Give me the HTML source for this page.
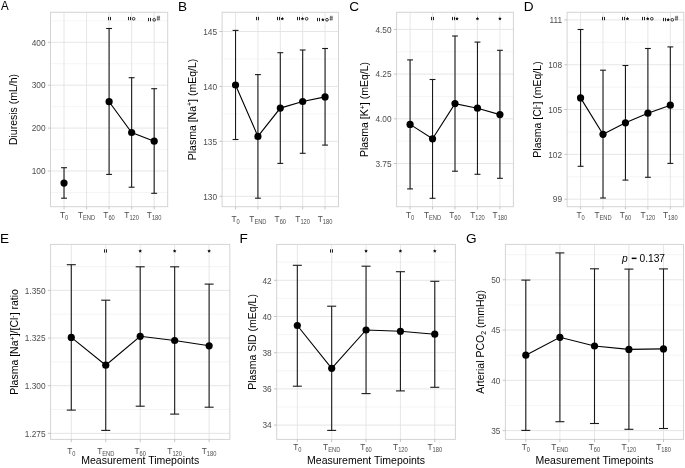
<!DOCTYPE html>
<html><head><meta charset="utf-8"><style>
html,body{margin:0;padding:0;background:#fff;}
svg{display:block;filter:grayscale(1);}
text{font-family:"Liberation Sans",sans-serif;}
</style></head><body>
<svg width="685" height="468" viewBox="0 0 685 468">
<rect width="685" height="468" fill="#fff"/>
<line x1="50.5" x2="167.7" y1="192.45" y2="192.45" stroke="#EFEFEF" stroke-width="0.6"/>
<line x1="50.5" x2="167.7" y1="149.55" y2="149.55" stroke="#EFEFEF" stroke-width="0.6"/>
<line x1="50.5" x2="167.7" y1="106.65" y2="106.65" stroke="#EFEFEF" stroke-width="0.6"/>
<line x1="50.5" x2="167.7" y1="63.75" y2="63.75" stroke="#EFEFEF" stroke-width="0.6"/>
<line x1="50.5" x2="167.7" y1="20.85" y2="20.85" stroke="#EFEFEF" stroke-width="0.6"/>
<line x1="50.5" x2="167.7" y1="171" y2="171" stroke="#E3E3E3" stroke-width="0.9"/>
<line x1="50.5" x2="167.7" y1="128.1" y2="128.1" stroke="#E3E3E3" stroke-width="0.9"/>
<line x1="50.5" x2="167.7" y1="85.2" y2="85.2" stroke="#E3E3E3" stroke-width="0.9"/>
<line x1="50.5" x2="167.7" y1="42.3" y2="42.3" stroke="#E3E3E3" stroke-width="0.9"/>
<line x1="64.02" x2="64.02" y1="12.3" y2="206.7" stroke="#E3E3E3" stroke-width="0.9"/>
<line x1="86.56" x2="86.56" y1="12.3" y2="206.7" stroke="#E3E3E3" stroke-width="0.9"/>
<line x1="109.1" x2="109.1" y1="12.3" y2="206.7" stroke="#E3E3E3" stroke-width="0.9"/>
<line x1="131.64" x2="131.64" y1="12.3" y2="206.7" stroke="#E3E3E3" stroke-width="0.9"/>
<line x1="154.18" x2="154.18" y1="12.3" y2="206.7" stroke="#E3E3E3" stroke-width="0.9"/>
<rect x="50.5" y="12.3" width="117.2" height="194.4" fill="none" stroke="#D4D4D4" stroke-width="1"/>
<line x1="47.8" x2="50.5" y1="171" y2="171" stroke="#B8B8B8" stroke-width="0.8"/>
<text x="45.5" y="174.2" text-anchor="end" font-size="8.3" fill="#4D4D4D">100</text>
<line x1="47.8" x2="50.5" y1="128.1" y2="128.1" stroke="#B8B8B8" stroke-width="0.8"/>
<text x="45.5" y="131.3" text-anchor="end" font-size="8.3" fill="#4D4D4D">200</text>
<line x1="47.8" x2="50.5" y1="85.2" y2="85.2" stroke="#B8B8B8" stroke-width="0.8"/>
<text x="45.5" y="88.4" text-anchor="end" font-size="8.3" fill="#4D4D4D">300</text>
<line x1="47.8" x2="50.5" y1="42.3" y2="42.3" stroke="#B8B8B8" stroke-width="0.8"/>
<text x="45.5" y="45.5" text-anchor="end" font-size="8.3" fill="#4D4D4D">400</text>
<line x1="64.02" x2="64.02" y1="206.7" y2="209.4" stroke="#B8B8B8" stroke-width="0.8"/>
<line x1="86.56" x2="86.56" y1="206.7" y2="209.4" stroke="#B8B8B8" stroke-width="0.8"/>
<line x1="109.1" x2="109.1" y1="206.7" y2="209.4" stroke="#B8B8B8" stroke-width="0.8"/>
<line x1="131.64" x2="131.64" y1="206.7" y2="209.4" stroke="#B8B8B8" stroke-width="0.8"/>
<line x1="154.18" x2="154.18" y1="206.7" y2="209.4" stroke="#B8B8B8" stroke-width="0.8"/>
<text x="59.89" y="218.2" font-size="8.3" fill="#4D4D4D">T</text>
<text x="64.96" y="220" font-size="7.0" fill="#4D4D4D" textLength="3.19" lengthAdjust="spacingAndGlyphs">0</text>
<text x="77.97" y="218.2" font-size="8.3" fill="#4D4D4D">T</text>
<text x="83.04" y="220" font-size="7.0" fill="#4D4D4D" textLength="12.12" lengthAdjust="spacingAndGlyphs">END</text>
<text x="103.37" y="218.2" font-size="8.3" fill="#4D4D4D">T</text>
<text x="108.44" y="220" font-size="7.0" fill="#4D4D4D" textLength="6.38" lengthAdjust="spacingAndGlyphs">60</text>
<text x="124.32" y="218.2" font-size="8.3" fill="#4D4D4D">T</text>
<text x="129.39" y="220" font-size="7.0" fill="#4D4D4D" textLength="9.57" lengthAdjust="spacingAndGlyphs">120</text>
<text x="146.85" y="218.2" font-size="8.3" fill="#4D4D4D">T</text>
<text x="151.93" y="220" font-size="7.0" fill="#4D4D4D" textLength="9.57" lengthAdjust="spacingAndGlyphs">180</text>
<line x1="64.02" x2="64.02" y1="167.7" y2="198.2" stroke="#1A1A1A" stroke-width="1.1"/>
<line x1="61.07" x2="66.98" y1="167.7" y2="167.7" stroke="#1A1A1A" stroke-width="1.1"/>
<line x1="61.07" x2="66.98" y1="198.2" y2="198.2" stroke="#1A1A1A" stroke-width="1.1"/>
<line x1="109.1" x2="109.1" y1="28.5" y2="174.4" stroke="#1A1A1A" stroke-width="1.1"/>
<line x1="106.15" x2="112.05" y1="28.5" y2="28.5" stroke="#1A1A1A" stroke-width="1.1"/>
<line x1="106.15" x2="112.05" y1="174.4" y2="174.4" stroke="#1A1A1A" stroke-width="1.1"/>
<line x1="131.64" x2="131.64" y1="77.7" y2="187.2" stroke="#1A1A1A" stroke-width="1.1"/>
<line x1="128.69" x2="134.59" y1="77.7" y2="77.7" stroke="#1A1A1A" stroke-width="1.1"/>
<line x1="128.69" x2="134.59" y1="187.2" y2="187.2" stroke="#1A1A1A" stroke-width="1.1"/>
<line x1="154.18" x2="154.18" y1="88.7" y2="193.3" stroke="#1A1A1A" stroke-width="1.1"/>
<line x1="151.22" x2="157.13" y1="88.7" y2="88.7" stroke="#1A1A1A" stroke-width="1.1"/>
<line x1="151.22" x2="157.13" y1="193.3" y2="193.3" stroke="#1A1A1A" stroke-width="1.1"/>
<polyline points="109.1,101.7 131.64,132.5 154.18,141.2" fill="none" stroke="#000" stroke-width="1.1"/>
<circle cx="64.02" cy="183.1" r="3.6" fill="#000"/>
<circle cx="109.1" cy="101.7" r="3.6" fill="#000"/>
<circle cx="131.64" cy="132.5" r="3.6" fill="#000"/>
<circle cx="154.18" cy="141.2" r="3.6" fill="#000"/>
<rect x="108" y="16.9" width="1.0" height="3.3" fill="#222"/>
<rect x="110" y="16.9" width="1.0" height="3.3" fill="#222"/>
<rect x="128" y="16.9" width="1.0" height="3.3" fill="#222"/>
<rect x="130" y="16.9" width="1.0" height="3.3" fill="#222"/>
<circle cx="133.64" cy="18.8" r="1.35" fill="none" stroke="#222" stroke-width="0.9"/>
<rect x="148" y="17.9" width="1.0" height="3.3" fill="#222"/>
<rect x="150" y="17.9" width="1.0" height="3.3" fill="#222"/>
<circle cx="154.18" cy="19.8" r="1.35" fill="none" stroke="#222" stroke-width="0.9"/>
<path d="M157.88,15.8L157.58,20.6M159.28,15.8L158.98,20.6M156.78,17.2H160.08M156.78,19.2H160.08" stroke="#333" stroke-width="0.6" fill="none"/>
<text transform="translate(17,109.5) rotate(-90)" text-anchor="middle" font-size="10.5" fill="#000">Diuresis (mL/h)</text>
<text transform="translate(0.9,10.3) scale(0.85,1)" font-size="13.6" fill="#000">A</text>
<line x1="222.1" x2="338.5" y1="168.83" y2="168.83" stroke="#EFEFEF" stroke-width="0.6"/>
<line x1="222.1" x2="338.5" y1="113.9" y2="113.9" stroke="#EFEFEF" stroke-width="0.6"/>
<line x1="222.1" x2="338.5" y1="58.97" y2="58.97" stroke="#EFEFEF" stroke-width="0.6"/>
<line x1="222.1" x2="338.5" y1="196.3" y2="196.3" stroke="#E3E3E3" stroke-width="0.9"/>
<line x1="222.1" x2="338.5" y1="141.37" y2="141.37" stroke="#E3E3E3" stroke-width="0.9"/>
<line x1="222.1" x2="338.5" y1="86.43" y2="86.43" stroke="#E3E3E3" stroke-width="0.9"/>
<line x1="222.1" x2="338.5" y1="31.5" y2="31.5" stroke="#E3E3E3" stroke-width="0.9"/>
<line x1="235.53" x2="235.53" y1="12.3" y2="206.7" stroke="#E3E3E3" stroke-width="0.9"/>
<line x1="257.92" x2="257.92" y1="12.3" y2="206.7" stroke="#E3E3E3" stroke-width="0.9"/>
<line x1="280.3" x2="280.3" y1="12.3" y2="206.7" stroke="#E3E3E3" stroke-width="0.9"/>
<line x1="302.68" x2="302.68" y1="12.3" y2="206.7" stroke="#E3E3E3" stroke-width="0.9"/>
<line x1="325.07" x2="325.07" y1="12.3" y2="206.7" stroke="#E3E3E3" stroke-width="0.9"/>
<rect x="222.1" y="12.3" width="116.4" height="194.4" fill="none" stroke="#D4D4D4" stroke-width="1"/>
<line x1="219.4" x2="222.1" y1="196.3" y2="196.3" stroke="#B8B8B8" stroke-width="0.8"/>
<text x="217.1" y="199.5" text-anchor="end" font-size="8.3" fill="#4D4D4D">130</text>
<line x1="219.4" x2="222.1" y1="141.37" y2="141.37" stroke="#B8B8B8" stroke-width="0.8"/>
<text x="217.1" y="144.57" text-anchor="end" font-size="8.3" fill="#4D4D4D">135</text>
<line x1="219.4" x2="222.1" y1="86.43" y2="86.43" stroke="#B8B8B8" stroke-width="0.8"/>
<text x="217.1" y="89.63" text-anchor="end" font-size="8.3" fill="#4D4D4D">140</text>
<line x1="219.4" x2="222.1" y1="31.5" y2="31.5" stroke="#B8B8B8" stroke-width="0.8"/>
<text x="217.1" y="34.7" text-anchor="end" font-size="8.3" fill="#4D4D4D">145</text>
<line x1="235.53" x2="235.53" y1="206.7" y2="209.4" stroke="#B8B8B8" stroke-width="0.8"/>
<line x1="257.92" x2="257.92" y1="206.7" y2="209.4" stroke="#B8B8B8" stroke-width="0.8"/>
<line x1="280.3" x2="280.3" y1="206.7" y2="209.4" stroke="#B8B8B8" stroke-width="0.8"/>
<line x1="302.68" x2="302.68" y1="206.7" y2="209.4" stroke="#B8B8B8" stroke-width="0.8"/>
<line x1="325.07" x2="325.07" y1="206.7" y2="209.4" stroke="#B8B8B8" stroke-width="0.8"/>
<text x="231.4" y="221.8" font-size="8.3" fill="#4D4D4D">T</text>
<text x="236.47" y="223.6" font-size="7.0" fill="#4D4D4D" textLength="3.19" lengthAdjust="spacingAndGlyphs">0</text>
<text x="249.32" y="221.8" font-size="8.3" fill="#4D4D4D">T</text>
<text x="254.39" y="223.6" font-size="7.0" fill="#4D4D4D" textLength="12.12" lengthAdjust="spacingAndGlyphs">END</text>
<text x="274.57" y="221.8" font-size="8.3" fill="#4D4D4D">T</text>
<text x="279.64" y="223.6" font-size="7.0" fill="#4D4D4D" textLength="6.38" lengthAdjust="spacingAndGlyphs">60</text>
<text x="295.36" y="221.8" font-size="8.3" fill="#4D4D4D">T</text>
<text x="300.43" y="223.6" font-size="7.0" fill="#4D4D4D" textLength="9.57" lengthAdjust="spacingAndGlyphs">120</text>
<text x="317.75" y="221.8" font-size="8.3" fill="#4D4D4D">T</text>
<text x="322.82" y="223.6" font-size="7.0" fill="#4D4D4D" textLength="9.57" lengthAdjust="spacingAndGlyphs">180</text>
<line x1="235.53" x2="235.53" y1="30.4" y2="139.5" stroke="#1A1A1A" stroke-width="1.1"/>
<line x1="232.6" x2="238.46" y1="30.4" y2="30.4" stroke="#1A1A1A" stroke-width="1.1"/>
<line x1="232.6" x2="238.46" y1="139.5" y2="139.5" stroke="#1A1A1A" stroke-width="1.1"/>
<line x1="257.92" x2="257.92" y1="74.6" y2="198.2" stroke="#1A1A1A" stroke-width="1.1"/>
<line x1="254.98" x2="260.85" y1="74.6" y2="74.6" stroke="#1A1A1A" stroke-width="1.1"/>
<line x1="254.98" x2="260.85" y1="198.2" y2="198.2" stroke="#1A1A1A" stroke-width="1.1"/>
<line x1="280.3" x2="280.3" y1="52.7" y2="163.4" stroke="#1A1A1A" stroke-width="1.1"/>
<line x1="277.37" x2="283.23" y1="52.7" y2="52.7" stroke="#1A1A1A" stroke-width="1.1"/>
<line x1="277.37" x2="283.23" y1="163.4" y2="163.4" stroke="#1A1A1A" stroke-width="1.1"/>
<line x1="302.68" x2="302.68" y1="50" y2="153.3" stroke="#1A1A1A" stroke-width="1.1"/>
<line x1="299.75" x2="305.62" y1="50" y2="50" stroke="#1A1A1A" stroke-width="1.1"/>
<line x1="299.75" x2="305.62" y1="153.3" y2="153.3" stroke="#1A1A1A" stroke-width="1.1"/>
<line x1="325.07" x2="325.07" y1="48.5" y2="145.1" stroke="#1A1A1A" stroke-width="1.1"/>
<line x1="322.14" x2="328" y1="48.5" y2="48.5" stroke="#1A1A1A" stroke-width="1.1"/>
<line x1="322.14" x2="328" y1="145.1" y2="145.1" stroke="#1A1A1A" stroke-width="1.1"/>
<polyline points="235.53,85 257.92,136.4 280.3,108.1 302.68,101.5 325.07,96.9" fill="none" stroke="#000" stroke-width="1.1"/>
<circle cx="235.53" cy="85" r="3.6" fill="#000"/>
<circle cx="257.92" cy="136.4" r="3.6" fill="#000"/>
<circle cx="280.3" cy="108.1" r="3.6" fill="#000"/>
<circle cx="302.68" cy="101.5" r="3.6" fill="#000"/>
<circle cx="325.07" cy="96.9" r="3.6" fill="#000"/>
<rect x="256" y="16.9" width="1.0" height="3.3" fill="#222"/>
<rect x="258" y="16.9" width="1.0" height="3.3" fill="#222"/>
<rect x="277" y="16.9" width="1.0" height="3.3" fill="#222"/>
<rect x="279" y="16.9" width="1.0" height="3.3" fill="#222"/>
<polygon points="282.3,16.85 282.86,17.93 284.06,18.13 283.2,18.99 283.39,20.2 282.3,19.65 281.21,20.2 281.4,18.99 280.54,18.13 281.74,17.93" fill="#111"/>
<rect x="297" y="16.9" width="1.0" height="3.3" fill="#222"/>
<rect x="299" y="16.9" width="1.0" height="3.3" fill="#222"/>
<polygon points="302.48,16.85 303.04,17.93 304.24,18.13 303.39,18.99 303.57,20.2 302.48,19.65 301.4,20.2 301.58,18.99 300.73,18.13 301.93,17.93" fill="#111"/>
<circle cx="306.63" cy="18.8" r="1.35" fill="none" stroke="#222" stroke-width="0.9"/>
<rect x="317" y="17.9" width="1.0" height="3.3" fill="#222"/>
<rect x="319" y="17.9" width="1.0" height="3.3" fill="#222"/>
<polygon points="322.87,17.85 323.43,18.93 324.63,19.13 323.77,19.99 323.96,21.2 322.87,20.65 321.78,21.2 321.97,19.99 321.11,19.13 322.31,18.93" fill="#111"/>
<circle cx="327.02" cy="19.8" r="1.35" fill="none" stroke="#222" stroke-width="0.9"/>
<path d="M330.72,15.8L330.42,20.6M332.12,15.8L331.82,20.6M329.62,17.2H332.92M329.62,19.2H332.92" stroke="#333" stroke-width="0.6" fill="none"/>
<text transform="translate(195.7,109.5) rotate(-90)" text-anchor="middle" font-size="10.5" fill="#000">Plasma [Na<tspan dy="-3.5" font-size="7">+</tspan><tspan dy="3.5">] (mEq/L)</tspan></text>
<text transform="translate(177.9,10.6) scale(1.0,1)" font-size="13.6" fill="#000">B</text>
<line x1="396.6" x2="513.4" y1="185.85" y2="185.85" stroke="#EFEFEF" stroke-width="0.6"/>
<line x1="396.6" x2="513.4" y1="141.15" y2="141.15" stroke="#EFEFEF" stroke-width="0.6"/>
<line x1="396.6" x2="513.4" y1="96.45" y2="96.45" stroke="#EFEFEF" stroke-width="0.6"/>
<line x1="396.6" x2="513.4" y1="51.75" y2="51.75" stroke="#EFEFEF" stroke-width="0.6"/>
<line x1="396.6" x2="513.4" y1="163.5" y2="163.5" stroke="#E3E3E3" stroke-width="0.9"/>
<line x1="396.6" x2="513.4" y1="118.8" y2="118.8" stroke="#E3E3E3" stroke-width="0.9"/>
<line x1="396.6" x2="513.4" y1="74.1" y2="74.1" stroke="#E3E3E3" stroke-width="0.9"/>
<line x1="396.6" x2="513.4" y1="29.4" y2="29.4" stroke="#E3E3E3" stroke-width="0.9"/>
<line x1="410.08" x2="410.08" y1="12.3" y2="206.7" stroke="#E3E3E3" stroke-width="0.9"/>
<line x1="432.54" x2="432.54" y1="12.3" y2="206.7" stroke="#E3E3E3" stroke-width="0.9"/>
<line x1="455" x2="455" y1="12.3" y2="206.7" stroke="#E3E3E3" stroke-width="0.9"/>
<line x1="477.46" x2="477.46" y1="12.3" y2="206.7" stroke="#E3E3E3" stroke-width="0.9"/>
<line x1="499.92" x2="499.92" y1="12.3" y2="206.7" stroke="#E3E3E3" stroke-width="0.9"/>
<rect x="396.6" y="12.3" width="116.8" height="194.4" fill="none" stroke="#D4D4D4" stroke-width="1"/>
<line x1="393.9" x2="396.6" y1="163.5" y2="163.5" stroke="#B8B8B8" stroke-width="0.8"/>
<text x="391.6" y="166.7" text-anchor="end" font-size="8.3" fill="#4D4D4D">3.75</text>
<line x1="393.9" x2="396.6" y1="118.8" y2="118.8" stroke="#B8B8B8" stroke-width="0.8"/>
<text x="391.6" y="122" text-anchor="end" font-size="8.3" fill="#4D4D4D">4.00</text>
<line x1="393.9" x2="396.6" y1="74.1" y2="74.1" stroke="#B8B8B8" stroke-width="0.8"/>
<text x="391.6" y="77.3" text-anchor="end" font-size="8.3" fill="#4D4D4D">4.25</text>
<line x1="393.9" x2="396.6" y1="29.4" y2="29.4" stroke="#B8B8B8" stroke-width="0.8"/>
<text x="391.6" y="32.6" text-anchor="end" font-size="8.3" fill="#4D4D4D">4.50</text>
<line x1="410.08" x2="410.08" y1="206.7" y2="209.4" stroke="#B8B8B8" stroke-width="0.8"/>
<line x1="432.54" x2="432.54" y1="206.7" y2="209.4" stroke="#B8B8B8" stroke-width="0.8"/>
<line x1="455" x2="455" y1="206.7" y2="209.4" stroke="#B8B8B8" stroke-width="0.8"/>
<line x1="477.46" x2="477.46" y1="206.7" y2="209.4" stroke="#B8B8B8" stroke-width="0.8"/>
<line x1="499.92" x2="499.92" y1="206.7" y2="209.4" stroke="#B8B8B8" stroke-width="0.8"/>
<text x="405.95" y="218.2" font-size="8.3" fill="#4D4D4D">T</text>
<text x="411.02" y="220" font-size="7.0" fill="#4D4D4D" textLength="3.19" lengthAdjust="spacingAndGlyphs">0</text>
<text x="423.94" y="218.2" font-size="8.3" fill="#4D4D4D">T</text>
<text x="429.02" y="220" font-size="7.0" fill="#4D4D4D" textLength="12.12" lengthAdjust="spacingAndGlyphs">END</text>
<text x="449.27" y="218.2" font-size="8.3" fill="#4D4D4D">T</text>
<text x="454.34" y="220" font-size="7.0" fill="#4D4D4D" textLength="6.38" lengthAdjust="spacingAndGlyphs">60</text>
<text x="470.14" y="218.2" font-size="8.3" fill="#4D4D4D">T</text>
<text x="475.21" y="220" font-size="7.0" fill="#4D4D4D" textLength="9.57" lengthAdjust="spacingAndGlyphs">120</text>
<text x="492.6" y="218.2" font-size="8.3" fill="#4D4D4D">T</text>
<text x="497.67" y="220" font-size="7.0" fill="#4D4D4D" textLength="9.57" lengthAdjust="spacingAndGlyphs">180</text>
<line x1="410.08" x2="410.08" y1="59.9" y2="188.9" stroke="#1A1A1A" stroke-width="1.1"/>
<line x1="407.13" x2="413.02" y1="59.9" y2="59.9" stroke="#1A1A1A" stroke-width="1.1"/>
<line x1="407.13" x2="413.02" y1="188.9" y2="188.9" stroke="#1A1A1A" stroke-width="1.1"/>
<line x1="432.54" x2="432.54" y1="79.5" y2="198.3" stroke="#1A1A1A" stroke-width="1.1"/>
<line x1="429.6" x2="435.48" y1="79.5" y2="79.5" stroke="#1A1A1A" stroke-width="1.1"/>
<line x1="429.6" x2="435.48" y1="198.3" y2="198.3" stroke="#1A1A1A" stroke-width="1.1"/>
<line x1="455" x2="455" y1="36" y2="171.2" stroke="#1A1A1A" stroke-width="1.1"/>
<line x1="452.06" x2="457.94" y1="36" y2="36" stroke="#1A1A1A" stroke-width="1.1"/>
<line x1="452.06" x2="457.94" y1="171.2" y2="171.2" stroke="#1A1A1A" stroke-width="1.1"/>
<line x1="477.46" x2="477.46" y1="42.1" y2="174.3" stroke="#1A1A1A" stroke-width="1.1"/>
<line x1="474.52" x2="480.4" y1="42.1" y2="42.1" stroke="#1A1A1A" stroke-width="1.1"/>
<line x1="474.52" x2="480.4" y1="174.3" y2="174.3" stroke="#1A1A1A" stroke-width="1.1"/>
<line x1="499.92" x2="499.92" y1="50.3" y2="178.3" stroke="#1A1A1A" stroke-width="1.1"/>
<line x1="496.98" x2="502.87" y1="50.3" y2="50.3" stroke="#1A1A1A" stroke-width="1.1"/>
<line x1="496.98" x2="502.87" y1="178.3" y2="178.3" stroke="#1A1A1A" stroke-width="1.1"/>
<polyline points="410.08,124.4 432.54,138.8 455,103.6 477.46,108.2 499.92,114.6" fill="none" stroke="#000" stroke-width="1.1"/>
<circle cx="410.08" cy="124.4" r="3.6" fill="#000"/>
<circle cx="432.54" cy="138.8" r="3.6" fill="#000"/>
<circle cx="455" cy="103.6" r="3.6" fill="#000"/>
<circle cx="477.46" cy="108.2" r="3.6" fill="#000"/>
<circle cx="499.92" cy="114.6" r="3.6" fill="#000"/>
<rect x="431" y="16.9" width="1.0" height="3.3" fill="#222"/>
<rect x="433" y="16.9" width="1.0" height="3.3" fill="#222"/>
<rect x="452" y="16.9" width="1.0" height="3.3" fill="#222"/>
<rect x="454" y="16.9" width="1.0" height="3.3" fill="#222"/>
<polygon points="457,16.85 457.56,17.93 458.76,18.13 457.9,18.99 458.09,20.2 457,19.65 455.91,20.2 456.1,18.99 455.24,18.13 456.44,17.93" fill="#111"/>
<polygon points="477.46,16.85 478.02,17.93 479.22,18.13 478.37,18.99 478.55,20.2 477.46,19.65 476.37,20.2 476.56,18.99 475.7,18.13 476.9,17.93" fill="#111"/>
<polygon points="499.92,16.85 500.48,17.93 501.68,18.13 500.83,18.99 501.01,20.2 499.92,19.65 498.84,20.2 499.02,18.99 498.16,18.13 499.36,17.93" fill="#111"/>
<text transform="translate(368,109.5) rotate(-90)" text-anchor="middle" font-size="10.5" fill="#000">Plasma [K<tspan dy="-3.5" font-size="7">+</tspan><tspan dy="3.5">] (mEq/L)</tspan></text>
<text transform="translate(349.3,10.6) scale(1.0,1)" font-size="13.6" fill="#000">C</text>
<line x1="567.1" x2="683.8" y1="176.79" y2="176.79" stroke="#EFEFEF" stroke-width="0.6"/>
<line x1="567.1" x2="683.8" y1="131.96" y2="131.96" stroke="#EFEFEF" stroke-width="0.6"/>
<line x1="567.1" x2="683.8" y1="87.14" y2="87.14" stroke="#EFEFEF" stroke-width="0.6"/>
<line x1="567.1" x2="683.8" y1="42.31" y2="42.31" stroke="#EFEFEF" stroke-width="0.6"/>
<line x1="567.1" x2="683.8" y1="199.2" y2="199.2" stroke="#E3E3E3" stroke-width="0.9"/>
<line x1="567.1" x2="683.8" y1="154.38" y2="154.38" stroke="#E3E3E3" stroke-width="0.9"/>
<line x1="567.1" x2="683.8" y1="109.55" y2="109.55" stroke="#E3E3E3" stroke-width="0.9"/>
<line x1="567.1" x2="683.8" y1="64.72" y2="64.72" stroke="#E3E3E3" stroke-width="0.9"/>
<line x1="567.1" x2="683.8" y1="19.9" y2="19.9" stroke="#E3E3E3" stroke-width="0.9"/>
<line x1="580.57" x2="580.57" y1="12.3" y2="206.7" stroke="#E3E3E3" stroke-width="0.9"/>
<line x1="603.01" x2="603.01" y1="12.3" y2="206.7" stroke="#E3E3E3" stroke-width="0.9"/>
<line x1="625.45" x2="625.45" y1="12.3" y2="206.7" stroke="#E3E3E3" stroke-width="0.9"/>
<line x1="647.89" x2="647.89" y1="12.3" y2="206.7" stroke="#E3E3E3" stroke-width="0.9"/>
<line x1="670.33" x2="670.33" y1="12.3" y2="206.7" stroke="#E3E3E3" stroke-width="0.9"/>
<rect x="567.1" y="12.3" width="116.7" height="194.4" fill="none" stroke="#D4D4D4" stroke-width="1"/>
<line x1="564.4" x2="567.1" y1="199.2" y2="199.2" stroke="#B8B8B8" stroke-width="0.8"/>
<text x="562.1" y="202.4" text-anchor="end" font-size="8.3" fill="#4D4D4D">99</text>
<line x1="564.4" x2="567.1" y1="154.38" y2="154.38" stroke="#B8B8B8" stroke-width="0.8"/>
<text x="562.1" y="157.57" text-anchor="end" font-size="8.3" fill="#4D4D4D">102</text>
<line x1="564.4" x2="567.1" y1="109.55" y2="109.55" stroke="#B8B8B8" stroke-width="0.8"/>
<text x="562.1" y="112.75" text-anchor="end" font-size="8.3" fill="#4D4D4D">105</text>
<line x1="564.4" x2="567.1" y1="64.72" y2="64.72" stroke="#B8B8B8" stroke-width="0.8"/>
<text x="562.1" y="67.92" text-anchor="end" font-size="8.3" fill="#4D4D4D">108</text>
<line x1="564.4" x2="567.1" y1="19.9" y2="19.9" stroke="#B8B8B8" stroke-width="0.8"/>
<text x="562.1" y="23.1" text-anchor="end" font-size="8.3" fill="#4D4D4D">111</text>
<line x1="580.57" x2="580.57" y1="206.7" y2="209.4" stroke="#B8B8B8" stroke-width="0.8"/>
<line x1="603.01" x2="603.01" y1="206.7" y2="209.4" stroke="#B8B8B8" stroke-width="0.8"/>
<line x1="625.45" x2="625.45" y1="206.7" y2="209.4" stroke="#B8B8B8" stroke-width="0.8"/>
<line x1="647.89" x2="647.89" y1="206.7" y2="209.4" stroke="#B8B8B8" stroke-width="0.8"/>
<line x1="670.33" x2="670.33" y1="206.7" y2="209.4" stroke="#B8B8B8" stroke-width="0.8"/>
<text x="576.43" y="218.2" font-size="8.3" fill="#4D4D4D">T</text>
<text x="581.51" y="220" font-size="7.0" fill="#4D4D4D" textLength="3.19" lengthAdjust="spacingAndGlyphs">0</text>
<text x="594.41" y="218.2" font-size="8.3" fill="#4D4D4D">T</text>
<text x="599.48" y="220" font-size="7.0" fill="#4D4D4D" textLength="12.12" lengthAdjust="spacingAndGlyphs">END</text>
<text x="619.72" y="218.2" font-size="8.3" fill="#4D4D4D">T</text>
<text x="624.79" y="220" font-size="7.0" fill="#4D4D4D" textLength="6.38" lengthAdjust="spacingAndGlyphs">60</text>
<text x="640.57" y="218.2" font-size="8.3" fill="#4D4D4D">T</text>
<text x="645.64" y="220" font-size="7.0" fill="#4D4D4D" textLength="9.57" lengthAdjust="spacingAndGlyphs">120</text>
<text x="663.01" y="218.2" font-size="8.3" fill="#4D4D4D">T</text>
<text x="668.08" y="220" font-size="7.0" fill="#4D4D4D" textLength="9.57" lengthAdjust="spacingAndGlyphs">180</text>
<line x1="580.57" x2="580.57" y1="29.5" y2="166.3" stroke="#1A1A1A" stroke-width="1.1"/>
<line x1="577.63" x2="583.51" y1="29.5" y2="29.5" stroke="#1A1A1A" stroke-width="1.1"/>
<line x1="577.63" x2="583.51" y1="166.3" y2="166.3" stroke="#1A1A1A" stroke-width="1.1"/>
<line x1="603.01" x2="603.01" y1="70.2" y2="198" stroke="#1A1A1A" stroke-width="1.1"/>
<line x1="600.07" x2="605.95" y1="70.2" y2="70.2" stroke="#1A1A1A" stroke-width="1.1"/>
<line x1="600.07" x2="605.95" y1="198" y2="198" stroke="#1A1A1A" stroke-width="1.1"/>
<line x1="625.45" x2="625.45" y1="65.5" y2="180.1" stroke="#1A1A1A" stroke-width="1.1"/>
<line x1="622.51" x2="628.39" y1="65.5" y2="65.5" stroke="#1A1A1A" stroke-width="1.1"/>
<line x1="622.51" x2="628.39" y1="180.1" y2="180.1" stroke="#1A1A1A" stroke-width="1.1"/>
<line x1="647.89" x2="647.89" y1="48.5" y2="177.3" stroke="#1A1A1A" stroke-width="1.1"/>
<line x1="644.95" x2="650.83" y1="48.5" y2="48.5" stroke="#1A1A1A" stroke-width="1.1"/>
<line x1="644.95" x2="650.83" y1="177.3" y2="177.3" stroke="#1A1A1A" stroke-width="1.1"/>
<line x1="670.33" x2="670.33" y1="46.9" y2="163.4" stroke="#1A1A1A" stroke-width="1.1"/>
<line x1="667.39" x2="673.27" y1="46.9" y2="46.9" stroke="#1A1A1A" stroke-width="1.1"/>
<line x1="667.39" x2="673.27" y1="163.4" y2="163.4" stroke="#1A1A1A" stroke-width="1.1"/>
<polyline points="580.57,97.9 603.01,134.3 625.45,122.8 647.89,113.2 670.33,105.2" fill="none" stroke="#000" stroke-width="1.1"/>
<circle cx="580.57" cy="97.9" r="3.6" fill="#000"/>
<circle cx="603.01" cy="134.3" r="3.6" fill="#000"/>
<circle cx="625.45" cy="122.8" r="3.6" fill="#000"/>
<circle cx="647.89" cy="113.2" r="3.6" fill="#000"/>
<circle cx="670.33" cy="105.2" r="3.6" fill="#000"/>
<rect x="602" y="16.9" width="1.0" height="3.3" fill="#222"/>
<rect x="604" y="16.9" width="1.0" height="3.3" fill="#222"/>
<rect x="622" y="16.9" width="1.0" height="3.3" fill="#222"/>
<rect x="624" y="16.9" width="1.0" height="3.3" fill="#222"/>
<polygon points="627.45,16.85 628.01,17.93 629.21,18.13 628.35,18.99 628.54,20.2 627.45,19.65 626.36,20.2 626.55,18.99 625.69,18.13 626.89,17.93" fill="#111"/>
<rect x="642" y="16.9" width="1.0" height="3.3" fill="#222"/>
<rect x="644" y="16.9" width="1.0" height="3.3" fill="#222"/>
<polygon points="647.69,16.85 648.25,17.93 649.45,18.13 648.6,18.99 648.78,20.2 647.69,19.65 646.6,20.2 646.79,18.99 645.93,18.13 647.13,17.93" fill="#111"/>
<circle cx="651.84" cy="18.8" r="1.35" fill="none" stroke="#222" stroke-width="0.9"/>
<rect x="663" y="17.9" width="1.0" height="3.3" fill="#222"/>
<rect x="665" y="17.9" width="1.0" height="3.3" fill="#222"/>
<polygon points="668.13,17.85 668.69,18.93 669.89,19.13 669.04,19.99 669.22,21.2 668.13,20.65 667.05,21.2 667.23,19.99 666.38,19.13 667.58,18.93" fill="#111"/>
<circle cx="672.28" cy="19.8" r="1.35" fill="none" stroke="#222" stroke-width="0.9"/>
<path d="M675.98,15.8L675.68,20.6M677.38,15.8L677.08,20.6M674.88,17.2H678.18M674.88,19.2H678.18" stroke="#333" stroke-width="0.6" fill="none"/>
<text transform="translate(541,109.5) rotate(-90)" text-anchor="middle" font-size="10.5" fill="#000">Plasma [Cl<tspan dy="-3.5" font-size="7">-</tspan><tspan dy="3.5">] (mEq/L)</tspan></text>
<text transform="translate(523.8,10.6) scale(1.0,1)" font-size="13.6" fill="#000">D</text>
<line x1="50.6" x2="229.8" y1="409.52" y2="409.52" stroke="#EFEFEF" stroke-width="0.6"/>
<line x1="50.6" x2="229.8" y1="361.88" y2="361.88" stroke="#EFEFEF" stroke-width="0.6"/>
<line x1="50.6" x2="229.8" y1="314.23" y2="314.23" stroke="#EFEFEF" stroke-width="0.6"/>
<line x1="50.6" x2="229.8" y1="266.58" y2="266.58" stroke="#EFEFEF" stroke-width="0.6"/>
<line x1="50.6" x2="229.8" y1="433.35" y2="433.35" stroke="#E3E3E3" stroke-width="0.9"/>
<line x1="50.6" x2="229.8" y1="385.7" y2="385.7" stroke="#E3E3E3" stroke-width="0.9"/>
<line x1="50.6" x2="229.8" y1="338.05" y2="338.05" stroke="#E3E3E3" stroke-width="0.9"/>
<line x1="50.6" x2="229.8" y1="290.4" y2="290.4" stroke="#E3E3E3" stroke-width="0.9"/>
<line x1="71.28" x2="71.28" y1="244.4" y2="439.4" stroke="#E3E3E3" stroke-width="0.9"/>
<line x1="105.74" x2="105.74" y1="244.4" y2="439.4" stroke="#E3E3E3" stroke-width="0.9"/>
<line x1="140.2" x2="140.2" y1="244.4" y2="439.4" stroke="#E3E3E3" stroke-width="0.9"/>
<line x1="174.66" x2="174.66" y1="244.4" y2="439.4" stroke="#E3E3E3" stroke-width="0.9"/>
<line x1="209.12" x2="209.12" y1="244.4" y2="439.4" stroke="#E3E3E3" stroke-width="0.9"/>
<rect x="50.6" y="244.4" width="179.2" height="195" fill="none" stroke="#D4D4D4" stroke-width="1"/>
<line x1="47.9" x2="50.6" y1="433.35" y2="433.35" stroke="#B8B8B8" stroke-width="0.8"/>
<text x="45.6" y="436.55" text-anchor="end" font-size="8.3" fill="#4D4D4D">1.275</text>
<line x1="47.9" x2="50.6" y1="385.7" y2="385.7" stroke="#B8B8B8" stroke-width="0.8"/>
<text x="45.6" y="388.9" text-anchor="end" font-size="8.3" fill="#4D4D4D">1.300</text>
<line x1="47.9" x2="50.6" y1="338.05" y2="338.05" stroke="#B8B8B8" stroke-width="0.8"/>
<text x="45.6" y="341.25" text-anchor="end" font-size="8.3" fill="#4D4D4D">1.325</text>
<line x1="47.9" x2="50.6" y1="290.4" y2="290.4" stroke="#B8B8B8" stroke-width="0.8"/>
<text x="45.6" y="293.6" text-anchor="end" font-size="8.3" fill="#4D4D4D">1.350</text>
<line x1="71.28" x2="71.28" y1="439.4" y2="442.1" stroke="#B8B8B8" stroke-width="0.8"/>
<line x1="105.74" x2="105.74" y1="439.4" y2="442.1" stroke="#B8B8B8" stroke-width="0.8"/>
<line x1="140.2" x2="140.2" y1="439.4" y2="442.1" stroke="#B8B8B8" stroke-width="0.8"/>
<line x1="174.66" x2="174.66" y1="439.4" y2="442.1" stroke="#B8B8B8" stroke-width="0.8"/>
<line x1="209.12" x2="209.12" y1="439.4" y2="442.1" stroke="#B8B8B8" stroke-width="0.8"/>
<text x="67.15" y="454" font-size="8.3" fill="#4D4D4D">T</text>
<text x="72.22" y="455.6" font-size="7.0" fill="#4D4D4D" textLength="3.19" lengthAdjust="spacingAndGlyphs">0</text>
<text x="97.14" y="454" font-size="8.3" fill="#4D4D4D">T</text>
<text x="102.22" y="455.6" font-size="7.0" fill="#4D4D4D" textLength="12.12" lengthAdjust="spacingAndGlyphs">END</text>
<text x="134.47" y="454" font-size="8.3" fill="#4D4D4D">T</text>
<text x="139.54" y="455.6" font-size="7.0" fill="#4D4D4D" textLength="6.38" lengthAdjust="spacingAndGlyphs">60</text>
<text x="167.34" y="454" font-size="8.3" fill="#4D4D4D">T</text>
<text x="172.41" y="455.6" font-size="7.0" fill="#4D4D4D" textLength="9.57" lengthAdjust="spacingAndGlyphs">120</text>
<text x="201.8" y="454" font-size="8.3" fill="#4D4D4D">T</text>
<text x="206.87" y="455.6" font-size="7.0" fill="#4D4D4D" textLength="9.57" lengthAdjust="spacingAndGlyphs">180</text>
<line x1="71.28" x2="71.28" y1="264.7" y2="410.1" stroke="#1A1A1A" stroke-width="1.1"/>
<line x1="66.76" x2="75.79" y1="264.7" y2="264.7" stroke="#1A1A1A" stroke-width="1.1"/>
<line x1="66.76" x2="75.79" y1="410.1" y2="410.1" stroke="#1A1A1A" stroke-width="1.1"/>
<line x1="105.74" x2="105.74" y1="300.2" y2="430.4" stroke="#1A1A1A" stroke-width="1.1"/>
<line x1="101.22" x2="110.25" y1="300.2" y2="300.2" stroke="#1A1A1A" stroke-width="1.1"/>
<line x1="101.22" x2="110.25" y1="430.4" y2="430.4" stroke="#1A1A1A" stroke-width="1.1"/>
<line x1="140.2" x2="140.2" y1="266.8" y2="406.2" stroke="#1A1A1A" stroke-width="1.1"/>
<line x1="135.69" x2="144.71" y1="266.8" y2="266.8" stroke="#1A1A1A" stroke-width="1.1"/>
<line x1="135.69" x2="144.71" y1="406.2" y2="406.2" stroke="#1A1A1A" stroke-width="1.1"/>
<line x1="174.66" x2="174.66" y1="266.8" y2="414.1" stroke="#1A1A1A" stroke-width="1.1"/>
<line x1="170.15" x2="179.18" y1="266.8" y2="266.8" stroke="#1A1A1A" stroke-width="1.1"/>
<line x1="170.15" x2="179.18" y1="414.1" y2="414.1" stroke="#1A1A1A" stroke-width="1.1"/>
<line x1="209.12" x2="209.12" y1="284.1" y2="407.2" stroke="#1A1A1A" stroke-width="1.1"/>
<line x1="204.61" x2="213.64" y1="284.1" y2="284.1" stroke="#1A1A1A" stroke-width="1.1"/>
<line x1="204.61" x2="213.64" y1="407.2" y2="407.2" stroke="#1A1A1A" stroke-width="1.1"/>
<polyline points="71.28,337.4 105.74,365.2 140.2,336.3 174.66,340.5 209.12,345.8" fill="none" stroke="#000" stroke-width="1.1"/>
<circle cx="71.28" cy="337.4" r="3.6" fill="#000"/>
<circle cx="105.74" cy="365.2" r="3.6" fill="#000"/>
<circle cx="140.2" cy="336.3" r="3.6" fill="#000"/>
<circle cx="174.66" cy="340.5" r="3.6" fill="#000"/>
<circle cx="209.12" cy="345.8" r="3.6" fill="#000"/>
<rect x="104" y="249.3" width="1.0" height="3.3" fill="#222"/>
<rect x="106" y="249.3" width="1.0" height="3.3" fill="#222"/>
<polygon points="140.2,249.25 140.76,250.33 141.96,250.53 141.1,251.39 141.29,252.6 140.2,252.05 139.11,252.6 139.3,251.39 138.44,250.53 139.64,250.33" fill="#111"/>
<polygon points="174.66,249.25 175.22,250.33 176.42,250.53 175.57,251.39 175.75,252.6 174.66,252.05 173.57,252.6 173.76,251.39 172.9,250.53 174.1,250.33" fill="#111"/>
<polygon points="209.12,249.25 209.68,250.33 210.88,250.53 210.03,251.39 210.21,252.6 209.12,252.05 208.04,252.6 208.22,251.39 207.36,250.53 208.56,250.33" fill="#111"/>
<text transform="translate(18,341.9) rotate(-90)" text-anchor="middle" font-size="10.5" fill="#000">Plasma [Na<tspan dy="-3.5" font-size="7">+</tspan><tspan dy="3.5">]/[Cl</tspan><tspan dy="-3.5" font-size="7">-</tspan><tspan dy="3.5">] ratio</tspan></text>
<text transform="translate(0.1,242.8) scale(1.0,1)" font-size="13.6" fill="#000">E</text>
<text x="140.2" y="463.9" text-anchor="middle" font-size="10.5" fill="#000">Measurement Timepoints</text>
<line x1="276.7" x2="455.4" y1="407" y2="407" stroke="#EFEFEF" stroke-width="0.6"/>
<line x1="276.7" x2="455.4" y1="370.8" y2="370.8" stroke="#EFEFEF" stroke-width="0.6"/>
<line x1="276.7" x2="455.4" y1="334.6" y2="334.6" stroke="#EFEFEF" stroke-width="0.6"/>
<line x1="276.7" x2="455.4" y1="298.4" y2="298.4" stroke="#EFEFEF" stroke-width="0.6"/>
<line x1="276.7" x2="455.4" y1="262.2" y2="262.2" stroke="#EFEFEF" stroke-width="0.6"/>
<line x1="276.7" x2="455.4" y1="425.1" y2="425.1" stroke="#E3E3E3" stroke-width="0.9"/>
<line x1="276.7" x2="455.4" y1="388.9" y2="388.9" stroke="#E3E3E3" stroke-width="0.9"/>
<line x1="276.7" x2="455.4" y1="352.7" y2="352.7" stroke="#E3E3E3" stroke-width="0.9"/>
<line x1="276.7" x2="455.4" y1="316.5" y2="316.5" stroke="#E3E3E3" stroke-width="0.9"/>
<line x1="276.7" x2="455.4" y1="280.3" y2="280.3" stroke="#E3E3E3" stroke-width="0.9"/>
<line x1="297.32" x2="297.32" y1="244.4" y2="439.4" stroke="#E3E3E3" stroke-width="0.9"/>
<line x1="331.68" x2="331.68" y1="244.4" y2="439.4" stroke="#E3E3E3" stroke-width="0.9"/>
<line x1="366.05" x2="366.05" y1="244.4" y2="439.4" stroke="#E3E3E3" stroke-width="0.9"/>
<line x1="400.42" x2="400.42" y1="244.4" y2="439.4" stroke="#E3E3E3" stroke-width="0.9"/>
<line x1="434.78" x2="434.78" y1="244.4" y2="439.4" stroke="#E3E3E3" stroke-width="0.9"/>
<rect x="276.7" y="244.4" width="178.7" height="195" fill="none" stroke="#D4D4D4" stroke-width="1"/>
<line x1="274" x2="276.7" y1="425.1" y2="425.1" stroke="#B8B8B8" stroke-width="0.8"/>
<text x="271.7" y="428.3" text-anchor="end" font-size="8.3" fill="#4D4D4D">34</text>
<line x1="274" x2="276.7" y1="388.9" y2="388.9" stroke="#B8B8B8" stroke-width="0.8"/>
<text x="271.7" y="392.1" text-anchor="end" font-size="8.3" fill="#4D4D4D">36</text>
<line x1="274" x2="276.7" y1="352.7" y2="352.7" stroke="#B8B8B8" stroke-width="0.8"/>
<text x="271.7" y="355.9" text-anchor="end" font-size="8.3" fill="#4D4D4D">38</text>
<line x1="274" x2="276.7" y1="316.5" y2="316.5" stroke="#B8B8B8" stroke-width="0.8"/>
<text x="271.7" y="319.7" text-anchor="end" font-size="8.3" fill="#4D4D4D">40</text>
<line x1="274" x2="276.7" y1="280.3" y2="280.3" stroke="#B8B8B8" stroke-width="0.8"/>
<text x="271.7" y="283.5" text-anchor="end" font-size="8.3" fill="#4D4D4D">42</text>
<line x1="297.32" x2="297.32" y1="439.4" y2="442.1" stroke="#B8B8B8" stroke-width="0.8"/>
<line x1="331.68" x2="331.68" y1="439.4" y2="442.1" stroke="#B8B8B8" stroke-width="0.8"/>
<line x1="366.05" x2="366.05" y1="439.4" y2="442.1" stroke="#B8B8B8" stroke-width="0.8"/>
<line x1="400.42" x2="400.42" y1="439.4" y2="442.1" stroke="#B8B8B8" stroke-width="0.8"/>
<line x1="434.78" x2="434.78" y1="439.4" y2="442.1" stroke="#B8B8B8" stroke-width="0.8"/>
<text x="293.19" y="450.2" font-size="8.3" fill="#4D4D4D">T</text>
<text x="298.26" y="451.8" font-size="7.0" fill="#4D4D4D" textLength="3.19" lengthAdjust="spacingAndGlyphs">0</text>
<text x="323.09" y="450.2" font-size="8.3" fill="#4D4D4D">T</text>
<text x="328.16" y="451.8" font-size="7.0" fill="#4D4D4D" textLength="12.12" lengthAdjust="spacingAndGlyphs">END</text>
<text x="360.32" y="450.2" font-size="8.3" fill="#4D4D4D">T</text>
<text x="365.39" y="451.8" font-size="7.0" fill="#4D4D4D" textLength="6.38" lengthAdjust="spacingAndGlyphs">60</text>
<text x="393.09" y="450.2" font-size="8.3" fill="#4D4D4D">T</text>
<text x="398.16" y="451.8" font-size="7.0" fill="#4D4D4D" textLength="9.57" lengthAdjust="spacingAndGlyphs">120</text>
<text x="427.46" y="450.2" font-size="8.3" fill="#4D4D4D">T</text>
<text x="432.53" y="451.8" font-size="7.0" fill="#4D4D4D" textLength="9.57" lengthAdjust="spacingAndGlyphs">180</text>
<line x1="297.32" x2="297.32" y1="265.3" y2="386.2" stroke="#1A1A1A" stroke-width="1.1"/>
<line x1="292.82" x2="301.82" y1="265.3" y2="265.3" stroke="#1A1A1A" stroke-width="1.1"/>
<line x1="292.82" x2="301.82" y1="386.2" y2="386.2" stroke="#1A1A1A" stroke-width="1.1"/>
<line x1="331.68" x2="331.68" y1="306.2" y2="430.4" stroke="#1A1A1A" stroke-width="1.1"/>
<line x1="327.18" x2="336.19" y1="306.2" y2="306.2" stroke="#1A1A1A" stroke-width="1.1"/>
<line x1="327.18" x2="336.19" y1="430.4" y2="430.4" stroke="#1A1A1A" stroke-width="1.1"/>
<line x1="366.05" x2="366.05" y1="266.2" y2="393.6" stroke="#1A1A1A" stroke-width="1.1"/>
<line x1="361.55" x2="370.55" y1="266.2" y2="266.2" stroke="#1A1A1A" stroke-width="1.1"/>
<line x1="361.55" x2="370.55" y1="393.6" y2="393.6" stroke="#1A1A1A" stroke-width="1.1"/>
<line x1="400.42" x2="400.42" y1="271.7" y2="390.9" stroke="#1A1A1A" stroke-width="1.1"/>
<line x1="395.91" x2="404.92" y1="271.7" y2="271.7" stroke="#1A1A1A" stroke-width="1.1"/>
<line x1="395.91" x2="404.92" y1="390.9" y2="390.9" stroke="#1A1A1A" stroke-width="1.1"/>
<line x1="434.78" x2="434.78" y1="281.3" y2="387.3" stroke="#1A1A1A" stroke-width="1.1"/>
<line x1="430.28" x2="439.28" y1="281.3" y2="281.3" stroke="#1A1A1A" stroke-width="1.1"/>
<line x1="430.28" x2="439.28" y1="387.3" y2="387.3" stroke="#1A1A1A" stroke-width="1.1"/>
<polyline points="297.32,325.5 331.68,368.3 366.05,330 400.42,331.3 434.78,334.2" fill="none" stroke="#000" stroke-width="1.1"/>
<circle cx="297.32" cy="325.5" r="3.6" fill="#000"/>
<circle cx="331.68" cy="368.3" r="3.6" fill="#000"/>
<circle cx="366.05" cy="330" r="3.6" fill="#000"/>
<circle cx="400.42" cy="331.3" r="3.6" fill="#000"/>
<circle cx="434.78" cy="334.2" r="3.6" fill="#000"/>
<rect x="330" y="249.3" width="1.0" height="3.3" fill="#222"/>
<rect x="332" y="249.3" width="1.0" height="3.3" fill="#222"/>
<polygon points="366.05,249.25 366.61,250.33 367.81,250.53 366.95,251.39 367.14,252.6 366.05,252.05 364.96,252.6 365.15,251.39 364.29,250.53 365.49,250.33" fill="#111"/>
<polygon points="400.42,249.25 400.97,250.33 402.17,250.53 401.32,251.39 401.5,252.6 400.42,252.05 399.33,252.6 399.51,251.39 398.66,250.53 399.86,250.33" fill="#111"/>
<polygon points="434.78,249.25 435.34,250.33 436.54,250.53 435.68,251.39 435.87,252.6 434.78,252.05 433.69,252.6 433.88,251.39 433.02,250.53 434.22,250.33" fill="#111"/>
<text transform="translate(255.7,341.9) rotate(-90)" text-anchor="middle" font-size="10.5" fill="#000">Plasma SID (mEq/L)</text>
<text transform="translate(239.4,242.9) scale(1.0,1)" font-size="13.6" fill="#000">F</text>
<text x="366.05" y="463.9" text-anchor="middle" font-size="10.5" fill="#000">Measurement Timepoints</text>
<line x1="505.4" x2="683.5" y1="405.47" y2="405.47" stroke="#EFEFEF" stroke-width="0.6"/>
<line x1="505.4" x2="683.5" y1="355.2" y2="355.2" stroke="#EFEFEF" stroke-width="0.6"/>
<line x1="505.4" x2="683.5" y1="304.93" y2="304.93" stroke="#EFEFEF" stroke-width="0.6"/>
<line x1="505.4" x2="683.5" y1="254.67" y2="254.67" stroke="#EFEFEF" stroke-width="0.6"/>
<line x1="505.4" x2="683.5" y1="430.6" y2="430.6" stroke="#E3E3E3" stroke-width="0.9"/>
<line x1="505.4" x2="683.5" y1="380.33" y2="380.33" stroke="#E3E3E3" stroke-width="0.9"/>
<line x1="505.4" x2="683.5" y1="330.07" y2="330.07" stroke="#E3E3E3" stroke-width="0.9"/>
<line x1="505.4" x2="683.5" y1="279.8" y2="279.8" stroke="#E3E3E3" stroke-width="0.9"/>
<line x1="525.8" x2="525.8" y1="244.4" y2="439.4" stroke="#E3E3E3" stroke-width="0.9"/>
<line x1="559.9" x2="559.9" y1="244.4" y2="439.4" stroke="#E3E3E3" stroke-width="0.9"/>
<line x1="594.5" x2="594.5" y1="244.4" y2="439.4" stroke="#E3E3E3" stroke-width="0.9"/>
<line x1="628.9" x2="628.9" y1="244.4" y2="439.4" stroke="#E3E3E3" stroke-width="0.9"/>
<line x1="663.5" x2="663.5" y1="244.4" y2="439.4" stroke="#E3E3E3" stroke-width="0.9"/>
<rect x="505.4" y="244.4" width="178.1" height="195" fill="none" stroke="#D4D4D4" stroke-width="1"/>
<line x1="502.7" x2="505.4" y1="430.6" y2="430.6" stroke="#B8B8B8" stroke-width="0.8"/>
<text x="500.4" y="433.8" text-anchor="end" font-size="8.3" fill="#4D4D4D">35</text>
<line x1="502.7" x2="505.4" y1="380.33" y2="380.33" stroke="#B8B8B8" stroke-width="0.8"/>
<text x="500.4" y="383.53" text-anchor="end" font-size="8.3" fill="#4D4D4D">40</text>
<line x1="502.7" x2="505.4" y1="330.07" y2="330.07" stroke="#B8B8B8" stroke-width="0.8"/>
<text x="500.4" y="333.27" text-anchor="end" font-size="8.3" fill="#4D4D4D">45</text>
<line x1="502.7" x2="505.4" y1="279.8" y2="279.8" stroke="#B8B8B8" stroke-width="0.8"/>
<text x="500.4" y="283" text-anchor="end" font-size="8.3" fill="#4D4D4D">50</text>
<line x1="525.8" x2="525.8" y1="439.4" y2="442.1" stroke="#B8B8B8" stroke-width="0.8"/>
<line x1="559.9" x2="559.9" y1="439.4" y2="442.1" stroke="#B8B8B8" stroke-width="0.8"/>
<line x1="594.5" x2="594.5" y1="439.4" y2="442.1" stroke="#B8B8B8" stroke-width="0.8"/>
<line x1="628.9" x2="628.9" y1="439.4" y2="442.1" stroke="#B8B8B8" stroke-width="0.8"/>
<line x1="663.5" x2="663.5" y1="439.4" y2="442.1" stroke="#B8B8B8" stroke-width="0.8"/>
<text x="521.67" y="450.2" font-size="8.3" fill="#4D4D4D">T</text>
<text x="526.74" y="451.8" font-size="7.0" fill="#4D4D4D" textLength="3.19" lengthAdjust="spacingAndGlyphs">0</text>
<text x="551.31" y="450.2" font-size="8.3" fill="#4D4D4D">T</text>
<text x="556.38" y="451.8" font-size="7.0" fill="#4D4D4D" textLength="12.12" lengthAdjust="spacingAndGlyphs">END</text>
<text x="588.77" y="450.2" font-size="8.3" fill="#4D4D4D">T</text>
<text x="593.84" y="451.8" font-size="7.0" fill="#4D4D4D" textLength="6.38" lengthAdjust="spacingAndGlyphs">60</text>
<text x="621.58" y="450.2" font-size="8.3" fill="#4D4D4D">T</text>
<text x="626.65" y="451.8" font-size="7.0" fill="#4D4D4D" textLength="9.57" lengthAdjust="spacingAndGlyphs">120</text>
<text x="656.18" y="450.2" font-size="8.3" fill="#4D4D4D">T</text>
<text x="661.25" y="451.8" font-size="7.0" fill="#4D4D4D" textLength="9.57" lengthAdjust="spacingAndGlyphs">180</text>
<line x1="525.8" x2="525.8" y1="280.1" y2="430.4" stroke="#1A1A1A" stroke-width="1.1"/>
<line x1="521.31" x2="530.29" y1="280.1" y2="280.1" stroke="#1A1A1A" stroke-width="1.1"/>
<line x1="521.31" x2="530.29" y1="430.4" y2="430.4" stroke="#1A1A1A" stroke-width="1.1"/>
<line x1="559.9" x2="559.9" y1="252.9" y2="421.7" stroke="#1A1A1A" stroke-width="1.1"/>
<line x1="555.41" x2="564.39" y1="252.9" y2="252.9" stroke="#1A1A1A" stroke-width="1.1"/>
<line x1="555.41" x2="564.39" y1="421.7" y2="421.7" stroke="#1A1A1A" stroke-width="1.1"/>
<line x1="594.5" x2="594.5" y1="268.8" y2="423.5" stroke="#1A1A1A" stroke-width="1.1"/>
<line x1="590.01" x2="598.99" y1="268.8" y2="268.8" stroke="#1A1A1A" stroke-width="1.1"/>
<line x1="590.01" x2="598.99" y1="423.5" y2="423.5" stroke="#1A1A1A" stroke-width="1.1"/>
<line x1="628.9" x2="628.9" y1="269.1" y2="429.3" stroke="#1A1A1A" stroke-width="1.1"/>
<line x1="624.41" x2="633.39" y1="269.1" y2="269.1" stroke="#1A1A1A" stroke-width="1.1"/>
<line x1="624.41" x2="633.39" y1="429.3" y2="429.3" stroke="#1A1A1A" stroke-width="1.1"/>
<line x1="663.5" x2="663.5" y1="268.9" y2="428.5" stroke="#1A1A1A" stroke-width="1.1"/>
<line x1="659.01" x2="667.99" y1="268.9" y2="268.9" stroke="#1A1A1A" stroke-width="1.1"/>
<line x1="659.01" x2="667.99" y1="428.5" y2="428.5" stroke="#1A1A1A" stroke-width="1.1"/>
<polyline points="525.8,355.2 559.9,337.3 594.5,346 628.9,349.4 663.5,348.9" fill="none" stroke="#000" stroke-width="1.1"/>
<circle cx="525.8" cy="355.2" r="3.6" fill="#000"/>
<circle cx="559.9" cy="337.3" r="3.6" fill="#000"/>
<circle cx="594.5" cy="346" r="3.6" fill="#000"/>
<circle cx="628.9" cy="349.4" r="3.6" fill="#000"/>
<circle cx="663.5" cy="348.9" r="3.6" fill="#000"/>
<text transform="translate(484.2,341.9) rotate(-90)" text-anchor="middle" font-size="10.5" fill="#000">Arterial PCO<tspan dy="2" font-size="7">2</tspan><tspan dy="-2"> (mmHg)</tspan></text>
<text transform="translate(466,242.9) scale(1.0,1)" font-size="13.6" fill="#000">G</text>
<text x="594.45" y="463.9" text-anchor="middle" font-size="10.5" fill="#000">Measurement Timepoints</text>
<text x="622.0" y="261.8" font-size="10.2" font-style="italic" fill="#000">p</text>
<rect x="631.7" y="257.6" width="4.8" height="1.5" fill="#000"/>
<text x="639.5" y="261.8" font-size="10.2" fill="#000">0.137</text>
</svg>
</body></html>
